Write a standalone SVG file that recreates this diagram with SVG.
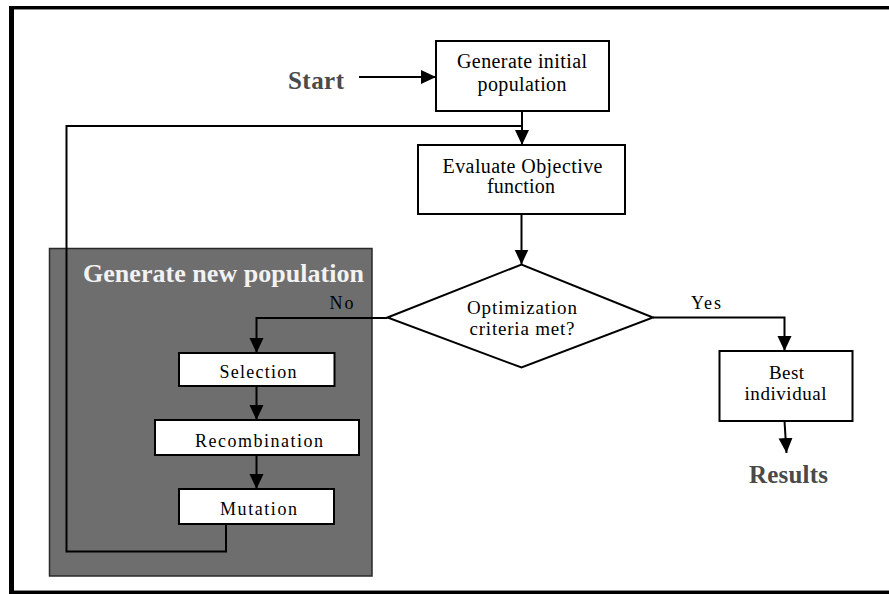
<svg xmlns="http://www.w3.org/2000/svg" width="889" height="594" viewBox="0 0 889 594">
  <style>
    .box { fill: #ffffff; stroke: #000000; stroke-width: 2; }
    .group { fill: #6e6e6e; stroke: #2a2a2a; stroke-width: 1.5; }
    .wire { fill: none; stroke: #000000; stroke-width: 2; }
    .lbl { font-family: "Liberation Serif", "Times New Roman", serif; fill: #000000; text-anchor: middle; }
    .big { font-family: "Liberation Serif", "Times New Roman", serif; font-weight: bold; font-size: 25px; fill: #4a4a4a; text-anchor: middle; }
    .title { font-family: "Liberation Serif", "Times New Roman", serif; font-weight: bold; font-size: 26px; fill: #f2f2f2; }
  </style>
  <defs>
    <marker id="arrow" markerUnits="userSpaceOnUse" markerWidth="16" markerHeight="16" refX="15" refY="7" orient="auto">
      <path d="M0,0 L15,7 L0,14 Z" fill="#000000"/>
    </marker>
  </defs>

  <rect width="889" height="594" fill="#ffffff"/>

  <!-- page frame (open on the right) -->
  <g id="frame">
    <line x1="14" y1="9.5" x2="889" y2="9.5" stroke="#8a8a8a" stroke-width="1"/>
    <line x1="14" y1="590.5" x2="889" y2="590.5" stroke="#8a8a8a" stroke-width="1"/>
    <rect x="9" y="6" width="880" height="3" fill="#000000"/>
    <rect x="9" y="6" width="5" height="588" fill="#000000"/>
    <rect x="9" y="591" width="880" height="3" fill="#000000"/>
  </g>

  <!-- shaded container for the new-population steps -->
  <g id="new-population">
    <rect class="group" x="49.5" y="248.5" width="322.5" height="327.5"/>
    <text class="title" x="83" y="282" textLength="281" lengthAdjust="spacing">Generate new population</text>
  </g>

  <g id="start">
    <text class="big" x="316" y="88.5" textLength="56" lengthAdjust="spacing">Start</text>
  </g>

  <g id="init">
    <rect class="box" x="436" y="41" width="173" height="70"/>
    <text class="lbl" font-size="20" x="522" y="67.5" textLength="130" lengthAdjust="spacing">Generate initial</text>
    <text class="lbl" font-size="20" x="522" y="90.5" textLength="89" lengthAdjust="spacing">population</text>
  </g>

  <g id="evaluate">
    <rect class="box" x="418" y="145" width="207" height="69"/>
    <text class="lbl" font-size="20" x="522.5" y="172.5" textLength="160" lengthAdjust="spacing">Evaluate Objective</text>
    <text class="lbl" font-size="20" x="521" y="192.5" textLength="68" lengthAdjust="spacing">function</text>
  </g>

  <g id="criteria">
    <polygon class="box" points="387.5,317.5 521.5,264.5 653,317.5 521.5,367.5"/>
    <text class="lbl" font-size="19" x="522" y="314" textLength="110" lengthAdjust="spacing">Optimization</text>
    <text class="lbl" font-size="19" x="522" y="335" textLength="105" lengthAdjust="spacing">criteria met?</text>
  </g>

  <g id="selection">
    <rect class="box" x="179" y="353" width="155.5" height="33"/>
    <text class="lbl" font-size="18" x="258" y="377.5" textLength="77" lengthAdjust="spacing">Selection</text>
  </g>

  <g id="recombination">
    <rect class="box" x="155" y="420" width="204" height="35"/>
    <text class="lbl" font-size="18" x="259" y="446.5" textLength="128" lengthAdjust="spacing">Recombination</text>
  </g>

  <g id="mutation">
    <rect class="box" x="179" y="489" width="155" height="35"/>
    <text class="lbl" font-size="18" x="258.5" y="515" textLength="77" lengthAdjust="spacing">Mutation</text>
  </g>

  <g id="best">
    <rect class="box" x="719.5" y="351" width="133" height="70"/>
    <text class="lbl" font-size="19" x="786.5" y="378.5" textLength="35" lengthAdjust="spacing">Best</text>
    <text class="lbl" font-size="19" x="785.5" y="399.5" textLength="82" lengthAdjust="spacing">individual</text>
  </g>

  <g id="results">
    <text class="big" x="788.5" y="482.5" textLength="79" lengthAdjust="spacing">Results</text>
  </g>

  <g id="connectors">
    <path class="wire" d="M359,77 H436" marker-end="url(#arrow)"/>
    <path class="wire" d="M522,111 V145" marker-end="url(#arrow)"/>
    <path class="wire" d="M521.5,214 V264.5" marker-end="url(#arrow)"/>
    <path class="wire" d="M387.5,318 H256.5 V353" marker-end="url(#arrow)"/>
    <path class="wire" d="M256.5,386 V420" marker-end="url(#arrow)"/>
    <path class="wire" d="M256.5,455 V489" marker-end="url(#arrow)"/>
    <path class="wire" d="M226,524 V551.5 H66.5 V126 H522"/>
    <path class="wire" d="M653,317.5 H784.5 V351" marker-end="url(#arrow)"/>
    <path class="wire" d="M784.5,421 L786.5,453" marker-end="url(#arrow)"/>
    <text class="lbl" font-size="18" x="341.5" y="309" textLength="24" lengthAdjust="spacing">No</text>
    <text class="lbl" font-size="18" x="706" y="309" textLength="30" lengthAdjust="spacing">Yes</text>
  </g>
</svg>
